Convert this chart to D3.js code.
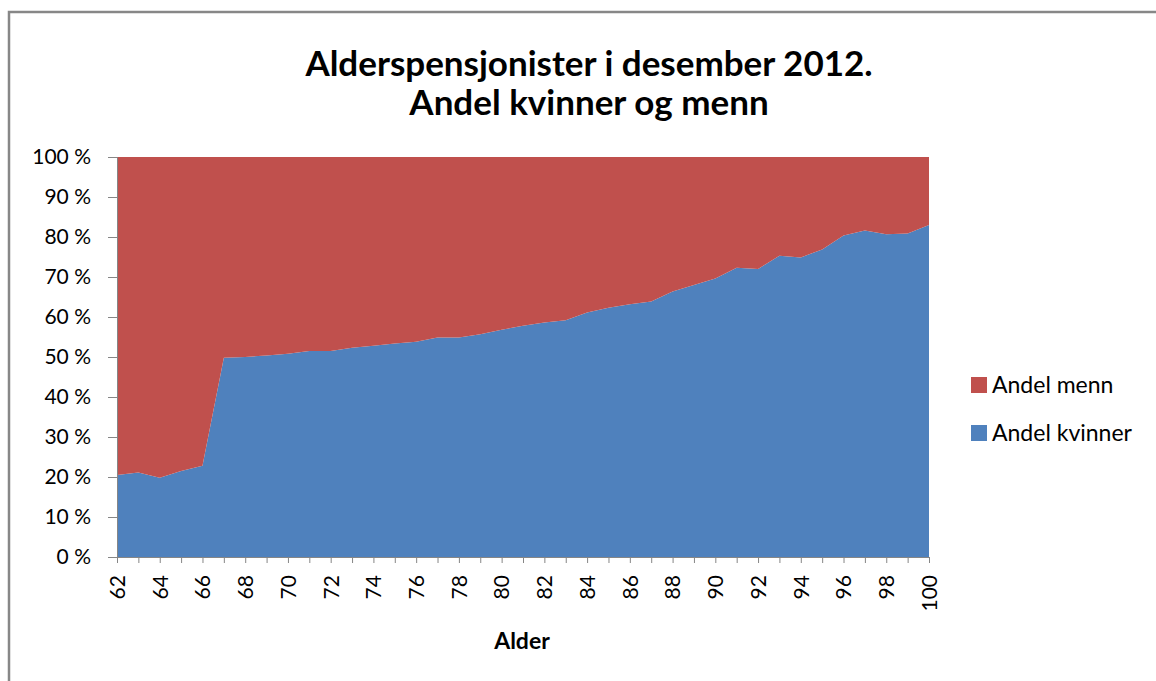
<!DOCTYPE html>
<meta charset="utf-8">
<head>
<style>
  body { margin: 0; background: #fff; }
  text { font-family: Lato, "Open Sans", sans-serif; fill: #000; }
</style>
</head>
<body>
<script src="https://d3js.org/d3.v7.js"></script>
<svg width="1156" height="681"></svg>
<script>

    // Alder (age) along the x axis
    var ages = d3.range(62, 101);

    // Share of women and men per age, in percent
    var andelKvinner = [20.5, 21.1, 19.8, 21.5, 22.8, 49.8, 50.0, 50.4, 50.8, 51.5,
        51.5, 52.3, 52.8, 53.4, 53.8, 54.9, 54.9, 55.7, 56.8, 57.8,
        58.6, 59.2, 61.1, 62.3, 63.2, 63.9, 66.4, 68.0, 69.6, 72.3,
        72.0, 75.3, 74.9, 76.9, 80.4, 81.6, 80.7, 80.9, 83.0];
    var andelMenn = [79.5, 78.9, 80.2, 78.5, 77.2, 50.2, 50.0, 49.6, 49.2, 48.5,
        48.5, 47.7, 47.2, 46.6, 46.2, 45.1, 45.1, 44.3, 43.2, 42.2,
        41.4, 40.8, 38.9, 37.7, 36.8, 36.1, 33.6, 32.0, 30.4, 27.7,
        28.0, 24.7, 25.1, 23.1, 19.6, 18.4, 19.3, 19.1, 17.0];

    var yTicks = [0, 10, 20, 30, 40, 50, 60, 70, 80, 90, 100];
    var xLabelAges = d3.range(62, 101, 2);

    var seriesKeys = ["kvinner", "menn"];
    var seriesNames = { kvinner: "Andel kvinner", menn: "Andel menn" };
    var colors = { kvinner: "#4f81bd", menn: "#c0504d" };

    var svg = d3.select("svg");

    // outer chart frame (only left and top edges are visible in the picture)
    svg.append("path")
        .attr("d", "M9,681 L9,12 L1156,12")
        .attr("fill", "none")
        .attr("stroke", "#878787")
        .attr("stroke-width", 2.5);

    // plot area (named so it doesn't clash with window.top)
    var plotLeft = 117, plotRight = 929, plotTop = 157, plotBottom = 557;

    var x = d3.scaleLinear().domain([62, 100]).range([plotLeft, plotRight]);
    var y = d3.scaleLinear().domain([0, 100]).range([plotBottom, plotTop]);

    var table = ages.map(function (a, i) {
        return { age: a, kvinner: andelKvinner[i], menn: andelMenn[i] };
    });

    var layers = d3.stack().keys(seriesKeys)(table);

    var area = d3.area()
        .x(function (d) { return x(d.data.age); })
        .y0(function (d) { return y(d[0]); })
        .y1(function (d) { return y(d[1]); });

    svg.append("g").selectAll("path")
        .data(layers)
        .enter().append("path")
        .attr("fill", function (d) { return colors[d.key]; })
        .attr("d", area);

    // y axis
    var yAxis = svg.append("g")
        .attr("transform", "translate(" + plotLeft + ",0)")
        .call(d3.axisLeft(y).tickValues(yTicks).tickSize(9).tickPadding(17)
            .tickFormat(function (d) { return d + " %"; }));
    yAxis.selectAll("line, path").attr("stroke", "#868686");
    yAxis.selectAll("text")
        .style("font-family", "Lato, sans-serif")
        .attr("font-size", 21)
        .attr("fill", "#000");

    // x axis: a tick for every age, labels every second year
    var xAxis = svg.append("g")
        .attr("transform", "translate(0," + plotBottom + ")")
        .call(d3.axisBottom(x).tickValues(ages).tickSize(6)
            .tickFormat(function (d) { return xLabelAges.indexOf(d) >= 0 ? d : ""; }));
    xAxis.selectAll("line, path").attr("stroke", "#868686");
    xAxis.selectAll("text")
        .style("font-family", "Lato, sans-serif")
        .attr("font-size", 21)
        .attr("fill", "#000")
        .attr("transform", "rotate(-90)")
        .attr("text-anchor", "end")
        .attr("x", -18)
        .attr("y", 0)
        .attr("dy", "0.35em");

    // title
    svg.append("text")
        .attr("x", 589).attr("y", 76)
        .attr("text-anchor", "middle")
        .attr("font-size", 35)
        .attr("font-weight", "bold")
        .text("Alderspensjonister i desember 2012.");
    svg.append("text")
        .attr("x", 589).attr("y", 115)
        .attr("text-anchor", "middle")
        .attr("font-size", 35)
        .attr("font-weight", "bold")
        .text("Andel kvinner og menn");

    // x axis label
    svg.append("text")
        .attr("x", 522).attr("y", 649)
        .attr("text-anchor", "middle")
        .attr("font-size", 23)
        .attr("font-weight", "bold")
        .text("Alder");

    // legend
    var legend = svg.append("g").selectAll("g")
        .data(["menn", "kvinner"])
        .enter().append("g")
        .attr("transform", function (d, i) { return "translate(971," + (377 + i * 48) + ")"; });
    legend.append("rect")
        .attr("width", 16).attr("height", 16)
        .attr("fill", function (d) { return colors[d]; });
    legend.append("text")
        .attr("x", 21).attr("y", 16)
        .attr("font-size", 23)
        .text(function (d) { return seriesNames[d]; });

</script>
</body>
</html>
